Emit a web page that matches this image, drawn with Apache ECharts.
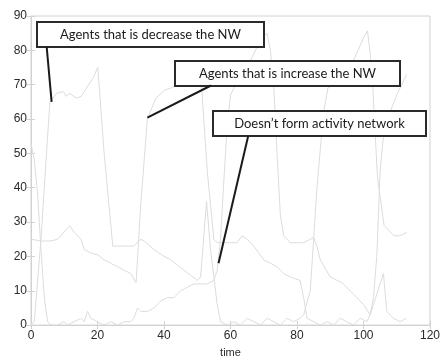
<!DOCTYPE html>
<html><head><meta charset="utf-8">
<script src="https://cdn.jsdelivr.net/npm/echarts@6/dist/echarts.min.js"></script>
<style>html,body{margin:0;padding:0;background:#fff}#c{width:443px;height:363px}</style>
</head><body><div id="c"></div>
<script>
// ---- data ----
const xAxisName = 'time';
const xMin = 0, xMax = 120, xStep = 20;
const yMin = 0, yMax = 90, yStep = 10;

// Agents that is decrease the NW
const decX = [0,1,3,5,5.7,7.7,9.7,10.6,11.6,13.6,15.1,16.6,18.6,20.1,22,24.6,26,28,31,33,34,37,40,42,44,46,48,50,51,52.8,54,56,57,59,61,63,65,67,69,71,73,75,77,79,81,82,84,86,88,89.3,93.2,97.2,100.2,101.2,102.5,104.2,106.2,109.2,111,113];
const decY = [0,1,25,55,65,67.5,68,66.6,67.5,66.1,66.6,68.9,71.8,75.1,50,23,23,23,23,25,24.5,22,20,19,17.5,16,14.5,13,14,36,22,6,1,0,1,0,2,1,0,2,1,0,2,1,2,3,10,40,62,69,71.8,77.5,84,85.7,75,43,29,26,26,27];

// Agents that is increase the NW
const incX = [0,3,6,8,9,11.6,13,15,16,18,20,22,24,26,28,30,31.6,33,35,37.5,40.3,42,44,46,48,50,51,53,55,56,58,60,62,63.5,65,67,70,72,74,76,78,80.9,82,83,85,87,89,91,93,95,97,99,101,102,103,104,105,106,108,110,112,113];
const incY = [25,24.5,24.5,25,26,29,27,25,22,21,20.5,19,18,17,16,15,12.3,35,60,66,68.5,69,70,72,74,75.8,74,45,25,24,24,24,24,26,25,23,19,18,17,15,14,13,8,2,1,0,1,0,2,1,0,2,1,3,8,20,45,55,62,67,71,73];

// Doesn't form activity network
const nofX = [0,1,2,3,4,5,6,8,10,11,13,15,16,17,18,20,22,24,26,28,30,31,32,33,35,37,39,41,43,45,47,49,51,53,55,56,57,58,59,60,62,64,66,68,70,71,72,73,74,75,76,78,80,82,84,85,86,87,90,93.6,97,100,102,104,106,107,109,111,113];
const nofY = [53,48,38,22,8,1,0,0,1,0,1,2,1,4,2,1,0,1,0,1,1,2,5,4,4,5,7,8,8,10,11,12,12,12,13,16,25,42,58,67,71,74,77,81,84,85,80,70,50,32,26,24,24,24,25,25.5,23,19,14,12.3,9,6,3,9,15,4,2,1,2];

// annotation texts and the data points their leader lines touch
const annoTexts = ['Agents that is decrease the NW', 'Agents that is increase the NW', "Doesn\u2019t form activity network"];
const annoTargets = [[6.2, 65], [35, 60.4], [56.4, 18]];

// ---- build ----
const zip = (xs, ys) => xs.map((x, i) => [x, ys[i]]);
const lineColor = '#dcdcdc';
const frame = '#d2d2d2';
const lab = {color: '#2a2a2a', fontFamily: 'Liberation Sans, Arial, sans-serif', fontSize: 12};

const chart = echarts.init(document.getElementById('c'), null, {renderer: 'canvas'});
const mkSeries = (name, xs, ys) => ({
  name, type: 'line', data: zip(xs, ys), showSymbol: false, symbol: 'none',
  lineStyle: {color: lineColor, width: 1}, z: 2, animation: false
});
chart.setOption({
  animation: false,
  backgroundColor: '#fff',
  grid: {left: 31, right: 10, top: 16, bottom: 31, show: true, borderColor: frame, borderWidth: 1},
  xAxis: [
    {type: 'value', min: xMin, max: xMax, interval: xStep, name: xAxisName, nameLocation: 'middle', nameGap: 20,
     nameTextStyle: {color: '#2a2a2a', fontFamily: 'Liberation Sans, Arial, sans-serif', fontSize: 11},
     axisLine: {show: true, lineStyle: {color: frame}}, axisTick: {inside: true, length: 4, lineStyle: {color: frame}},
     axisLabel: Object.assign({margin: 5}, lab), splitLine: {show: false}},
    {type: 'value', position: 'top', min: xMin, max: xMax, interval: xStep,
     axisLine: {show: false}, axisTick: {inside: true, length: 4, lineStyle: {color: frame}},
     axisLabel: {show: false}, splitLine: {show: false}}
  ],
  yAxis: [
    {type: 'value', min: yMin, max: yMax, interval: yStep,
     axisLine: {show: true, lineStyle: {color: frame}}, axisTick: {inside: true, length: 4, lineStyle: {color: frame}},
     axisLabel: Object.assign({margin: 4}, lab), splitLine: {show: false}},
    {type: 'value', position: 'right', min: yMin, max: yMax, interval: yStep,
     axisLine: {show: false}, axisTick: {inside: true, length: 4, lineStyle: {color: frame}},
     axisLabel: {show: false}, splitLine: {show: false}}
  ],
  series: [
    mkSeries(annoTexts[0], decX, decY),
    mkSeries(annoTexts[1], incX, incY),
    mkSeries(annoTexts[2], nofX, nofY)
  ]
});

// annotation boxes (pixel layout) with leader lines to data points
const boxes = [
  {x: 37, y: 22, w: 227, h: 25, sx: 46.7, sy: 47},
  {x: 175, y: 61, w: 225, h: 25, sx: 211, sy: 85.5},
  {x: 213, y: 111, w: 213, h: 25, sx: 248.3, sy: 135.5}
];
const g = [];
boxes.forEach((b, i) => {
  const p = chart.convertToPixel({xAxisIndex: 0, yAxisIndex: 0}, annoTargets[i]);
  g.push({type: 'line', z: 101, shape: {x1: b.sx, y1: b.sy, x2: p[0], y2: p[1]},
          style: {stroke: '#1a1a1a', lineWidth: 2}});
  g.push({type: 'rect', z: 100, shape: {x: b.x, y: b.y, width: b.w, height: b.h},
          style: {fill: '#fff', stroke: '#2a2a2a', lineWidth: 2}});
  g.push({type: 'text', z: 102, style: {text: annoTexts[i], x: b.x + b.w / 2, y: b.y + b.h / 2,
          align: 'center', verticalAlign: 'middle', textAlign: 'center', textVerticalAlign: 'middle',
          fill: '#1a1a1a', font: '13px Lato, "Open Sans", sans-serif'}});
});
chart.setOption({graphic: g});
</script>
</body></html>
